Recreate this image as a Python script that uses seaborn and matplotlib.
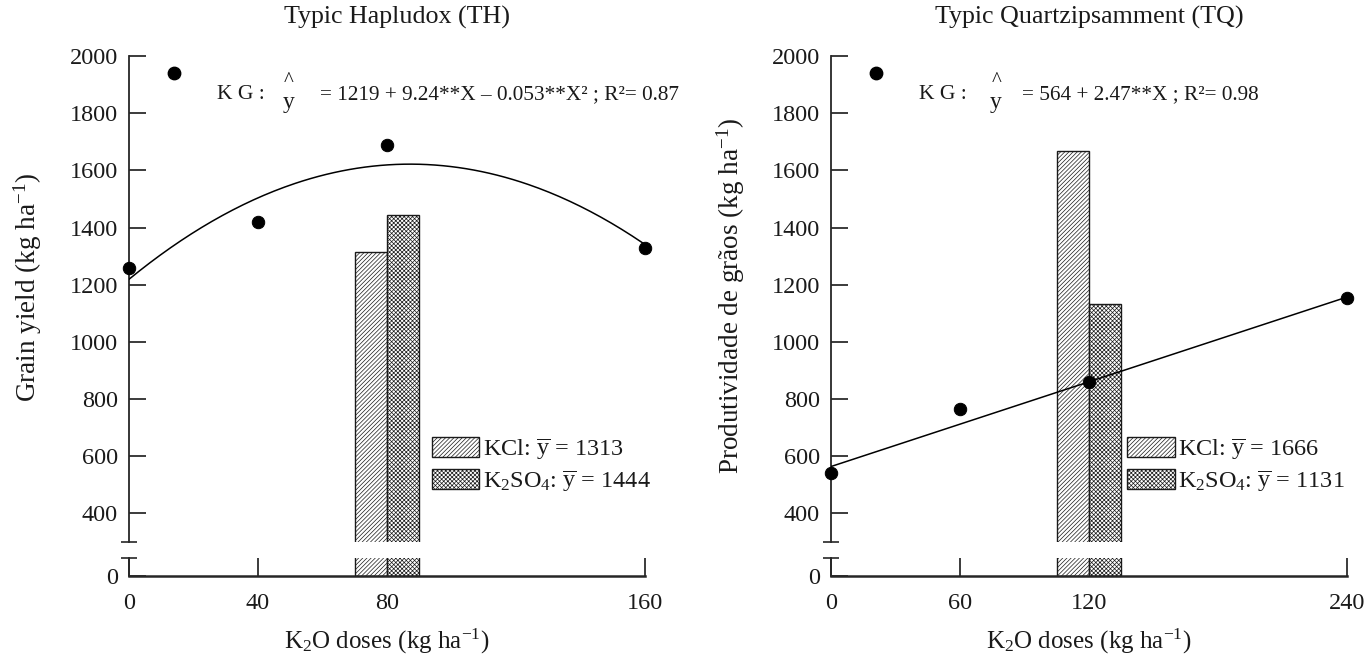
import numpy as np
import matplotlib
matplotlib.use("Agg")
import matplotlib.pyplot as plt
import seaborn as sns
from matplotlib.patches import Patch

sns.set_theme(style="ticks")
plt.rcParams['font.family'] = ['Liberation Serif', 'DejaVu Serif']
plt.rcParams['mathtext.fontset'] = 'custom'
plt.rcParams['mathtext.rm'] = 'Liberation Serif'
plt.rcParams['mathtext.it'] = 'Liberation Serif:italic'
plt.rcParams['mathtext.default'] = 'regular'
plt.rcParams['hatch.linewidth'] = 0.5
plt.rcParams['axes.linewidth'] = 1.3

# ---------------- data ----------------
titles = ["Typic Hapludox (TH)", "Typic Quartzipsamment (TQ)"]
ylabels = [r"Grain yield (kg ha$^{-1}$)", r"Produtividade de grãos (kg ha$^{-1}$)"]
xlabel = r"K$_2$O doses (kg ha$^{-1}$)"

th_doses = [0, 40, 80, 160]
th_yield = [1260, 1420, 1690, 1330]
tq_doses = [0, 60, 120, 240]
tq_yield = [540, 765, 860, 1155]

th_xticks = [0, 40, 80, 160]
tq_xticks = [0, 60, 120, 240]
yticks = [400, 600, 800, 1000, 1200, 1400, 1600, 1800, 2000]

# regression coefficients (intercept, linear, quadratic)
th_coef = [1219, 9.24, -0.053]
tq_coef = [564, 2.47]
equations = ["= 1219 + 9.24**X – 0.053**X² ; R²= 0.87",
             "= 564 + 2.47**X ; R²= 0.98"]

# source means (KCl, K2SO4)
bar_x = [80, 120]
kcl_mean = [1313, 1666]
k2so4_mean = [1444, 1131]
xmax = [160, 240]

# ---------------- layout ----------------
W, H = 1368, 655
fig = plt.figure(figsize=(W / 100, H / 100), dpi=100)

def fx(px):
    return px / W

def fy(py):
    return 1 - py / H

up_top, up_bot = 56, 542
lo_top, lo_bot = 558, 576
lefts = [129, 831]
width_px = 516
ylab_pos = [(28, 288), (731, 296)]
TXT = '#1a1a1a'

for i in range(2):
    L = lefts[i]
    ax_up = fig.add_axes([fx(L), fy(up_bot), width_px / W, (up_bot - up_top) / H])
    ax_lo = fig.add_axes([fx(L), fy(lo_bot), width_px / W, (lo_bot - lo_top) / H])
    doses = [th_doses, tq_doses][i]
    yld = [th_yield, tq_yield][i]
    coef = [th_coef, tq_coef][i]
    xm = xmax[i]
    w = xm / 16.0

    for ax in (ax_up, ax_lo):
        ax.bar([bar_x[i] - w / 2], [kcl_mean[i]], width=w, color='white',
               edgecolor='#1a1a1a', hatch='////////', linewidth=1.0, zorder=2)
        ax.bar([bar_x[i] + w / 2], [k2so4_mean[i]], width=w, color='white',
               edgecolor='#1a1a1a', hatch='xxxxxxxx', linewidth=1.0, zorder=2)
        ax.set_xlim(0, xm)
        for s in ('top', 'right'):
            ax.spines[s].set_visible(False)
        ax.set_facecolor('white')

    xfit = np.linspace(0, xm, 200)
    yfit = sum(c * xfit ** k for k, c in enumerate(coef))
    sns.lineplot(x=xfit, y=yfit, ax=ax_up, color='black', linewidth=1.1, zorder=3)
    sns.scatterplot(x=doses, y=yld, ax=ax_up, color='black', s=80,
                    edgecolor='black', zorder=5, legend=False, clip_on=False)

    # upper axis
    ax_up.set_ylim(300, 2000)
    ax_up.spines['bottom'].set_visible(False)
    ax_up.set_yticks(yticks)
    ax_up.set_yticks([300], minor=True)
    ax_up.tick_params(axis='y', which='major', direction='in', length=12,
                      width=1.2, pad=8, labelsize=17.5, colors=TXT)
    ax_up.tick_params(axis='y', which='minor', direction='inout', length=11, width=1.2)
    ax_up.tick_params(axis='x', bottom=False, labelbottom=False)
    ax_up.set_xlabel("")
    ax_up.set_ylabel("")
    fig.text(fx(ylab_pos[i][0]), fy(ylab_pos[i][1]), ylabels[i], rotation=90,
             ha='center', va='center', fontsize=19.5, color=TXT)

    # lower axis
    ax_lo.set_ylim(0, 63)
    ax_lo.set_yticks([0])
    ax_lo.set_yticks([63], minor=True)
    ax_lo.tick_params(axis='y', which='major', direction='in', length=12,
                      width=1.2, pad=8, labelsize=17.5, colors=TXT)
    ax_lo.tick_params(axis='y', which='minor', direction='inout', length=11, width=1.2)
    xt = [th_xticks, tq_xticks][i]
    ax_lo.set_xticks(xt)
    ax_lo.set_xticklabels([str(t) for t in xt])
    ax_lo.tick_params(axis='x', direction='in', length=13, width=1.2, pad=12,
                      labelsize=17.5, colors=TXT)
    ax_lo.spines['bottom'].set_linewidth(1.8)

    # titles / labels
    fig.text(fx(L + width_px / 2 + [10, 0][i]), fy(17), titles[i], ha='center',
             va='center', fontsize=18.7, color=TXT)
    fig.text(fx(L + width_px / 2), fy(641), xlabel, ha='center', va='center',
             fontsize=18, color=TXT)

    # KG legend-like label with equation
    ax_up.scatter([0.088], [0.965], transform=ax_up.transAxes, s=80,
                  color='black', clip_on=False, zorder=6)
    ax_up.text(0.17, 0.92, "K G :", transform=ax_up.transAxes, va='center',
               ha='left', fontsize=15.5, color=TXT)
    hx = [0.31, 0.32][i]
    ax_up.text(hx, 0.948, "^", transform=ax_up.transAxes, va='center',
               ha='center', fontsize=15, color=TXT)
    ax_up.text(hx, 0.905, "y", transform=ax_up.transAxes, va='center',
               ha='center', fontsize=17, color=TXT)
    ax_up.text(0.37, 0.92, equations[i], transform=ax_up.transAxes,
               va='center', ha='left', fontsize=15.3, color=TXT)

    # source legend
    handles = [
        Patch(facecolor='white', edgecolor='#1a1a1a', hatch='////////', linewidth=1.0,
              label=r"KCl: $\overline{y}$ = %d" % kcl_mean[i]),
        Patch(facecolor='white', edgecolor='#1a1a1a', hatch='xxxxxxxx', linewidth=1.0,
              label=r"K$_2$SO$_4$: $\overline{y}$ = %d" % k2so4_mean[i]),
    ]
    leg = ax_up.legend(handles=handles, loc='upper left',
                       bbox_to_anchor=([0.587, 0.574][i], 0.217),
                       frameon=False, fontsize=17.5, handlelength=1.95,
                       handleheight=0.9, handletextpad=0.15, labelspacing=0.3,
                       borderpad=0, borderaxespad=0)
    for t in leg.get_texts():
        t.set_color(TXT)

fig.savefig("out.png", dpi=100, facecolor='white')
